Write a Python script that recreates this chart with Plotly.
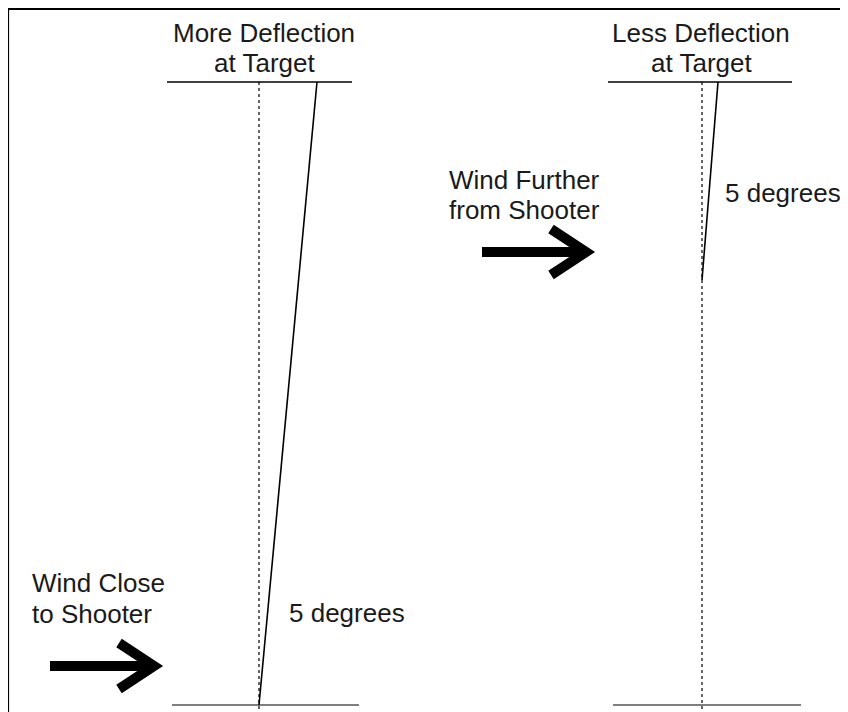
import plotly.graph_objects as go

# ---- data (diagram units: pixels of the 848x712 canvas, y downward) ----
panel_names = ["Wind Close to Shooter", "Wind Further from Shooter"]
target_titles = [["More Deflection", "at Target"], ["Less Deflection", "at Target"]]
wind_titles = [["Wind Close", "to Shooter"], ["Wind Further", "from Shooter"]]
angle_labels = ["5 degrees", "5 degrees"]
line_of_sight_x = [259, 702]        # dotted line (no-wind path)
deflected_top_x = [317, 718]        # where deflected path meets target line
wind_start_y = [705, 280]           # where wind starts acting on the bullet
target_y = 82
shooter_y = 705

W, H = 848, 712
OFF = 8  # page body margin
fig = go.Figure()

def seg(xs, ys, color="black", width=1.5, dash="solid"):
    fig.add_trace(go.Scatter(x=xs, y=ys, mode="lines",
                             line=dict(color=color, width=width, dash=dash),
                             hoverinfo="skip", showlegend=False, cliponaxis=False))

# frame (top and left)
seg([8, W], [9, 9], width=2.2)
seg([8, 8], [9, H], width=2.2)

target_half = [(-92, 93), (-94, 90)]
shooter_half = [(-87, 100), (-89, 99)]

for i in range(2):
    cx = line_of_sight_x[i]
    seg([cx + target_half[i][0], cx + target_half[i][1]], [target_y, target_y], width=1.4)
    seg([cx + shooter_half[i][0], cx + shooter_half[i][1]], [shooter_y, shooter_y],
        color="#7f7f7f", width=2.2)
    seg([cx, cx], [target_y, H], width=1.2, dash="dot")
    seg([cx, deflected_top_x[i]], [wind_start_y[i], target_y], width=1.6)

# wind arrows
arrow_specs = [(50, 666), (482, 252)]
for (x0, y0) in arrow_specs:
    seg([x0, x0 + 102], [y0, y0], width=10)
    seg([x0 + 69, x0 + 104, x0 + 69], [y0 - 23, y0, y0 + 23], width=10)

font = dict(family="Liberation Sans, Arial, sans-serif", size=26, color="#1a1a1a")
ann = []
def txt(x, y, s, xanchor="center"):
    ann.append(dict(x=x, y=y, xref="x", yref="y", text=s, showarrow=False,
                    xanchor=xanchor, yanchor="middle", font=font, align=xanchor))

title_cx = [264, 701]
for i in range(2):
    txt(title_cx[i], 33, target_titles[i][0])
    txt(title_cx[i], 63, target_titles[i][1])

txt(30, 583, wind_titles[0][0], "left")
txt(30, 614, wind_titles[0][1], "left")
txt(447, 180, wind_titles[1][0], "left")
txt(447, 210, wind_titles[1][1], "left")

txt(287, 613, angle_labels[0], "left")
txt(723, 193, angle_labels[1], "left")

fig.update_layout(
    width=W - OFF, height=H - OFF,
    margin=dict(l=0, r=0, t=0, b=0),
    paper_bgcolor="white", plot_bgcolor="white",
    xaxis=dict(range=[OFF, W], visible=False, fixedrange=True),
    yaxis=dict(range=[H, OFF], visible=False, fixedrange=True),
    annotations=ann,
)
fig.write_html("out.html", config={"displayModeBar": False})
